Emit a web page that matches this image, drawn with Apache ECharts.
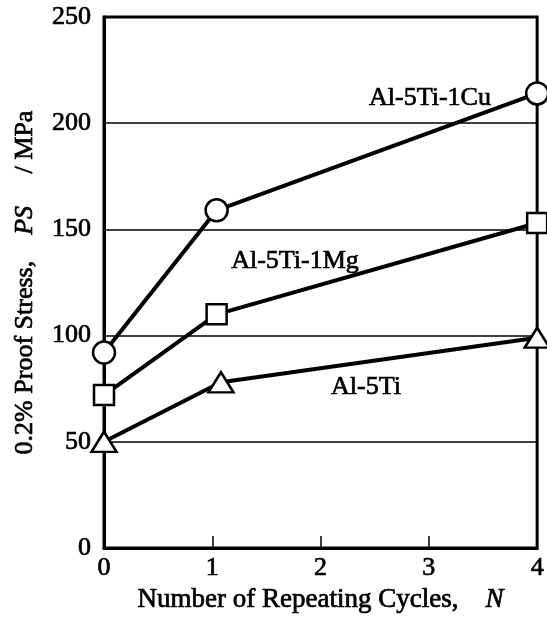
<!DOCTYPE html>
<html>
<head>
<meta charset="utf-8">
<script src="https://cdn.jsdelivr.net/npm/echarts@6/dist/echarts.min.js"></script>
<style>html,body{margin:0;padding:0;background:#fff}#c{width:547px;height:623px}</style>
</head>
<body>
<div id="c"></div>
<script>
const xTicks = [0, 1, 2, 3, 4];
const yTicks = [0, 50, 100, 150, 200, 250];
const seriesNames = ['Al-5Ti-1Cu', 'Al-5Ti-1Mg', 'Al-5Ti'];
const cuX = [0, 1.04, 4];
const cuY = [92, 159, 214];
const mgX = [0, 1.04, 4];
const mgY = [72, 110, 153];
const tiX = [0, 1.08, 4];
const tiY = [50, 78, 99];

const FONT = 'Liberation Serif';
const SW = 0.7;
const chart = echarts.init(document.getElementById('c'));
function pts(xs, ys) { return xs.map((x, i) => [x, ys[i]]); }
const common = {
  type: 'line',
  lineStyle: { color: '#000', width: 4 },
  itemStyle: { color: '#fff', borderColor: '#000', borderWidth: 2.5 },
  showAllSymbol: true,
  z: 5
};
const txt = { color: '#000', fontFamily: FONT, fontSize: 26, textBorderColor: '#000', textBorderWidth: SW };
const italic = Object.assign({}, txt, { fontStyle: 'italic' });
const xTxt = Object.assign({}, txt, { fontSize: 27 });
const xItalic = Object.assign({}, xTxt, { fontStyle: 'italic' });
function label(text, x, y) {
  return { type: 'text', x: x, y: y, z: 10,
    style: { text: text, fontFamily: FONT, fontSize: 26, fill: '#000', stroke: '#000', lineWidth: SW, align: 'center', verticalAlign: 'middle' } };
}
chart.setOption({
  animation: false,
  backgroundColor: '#fff',
  grid: { left: 104, right: 8, top: 17, bottom: 75, show: true, borderColor: '#000', borderWidth: 3, backgroundColor: 'transparent' },
  xAxis: {
    type: 'value', min: xTicks[0], max: xTicks[xTicks.length - 1], interval: 1,
    axisLine: { lineStyle: { color: '#000', width: 3 } },
    axisTick: { inside: true, length: 12, lineStyle: { color: '#000', width: 1.5 } },
    axisLabel: Object.assign({}, txt, { margin: 7 }),
    splitLine: { show: false },
    name: 'Number of Repeating Cycles,    {i|N}',
    nameLocation: 'middle', nameGap: 37,
    nameTextStyle: Object.assign({}, xTxt, { rich: { i: xItalic } })
  },
  yAxis: {
    type: 'value', min: yTicks[0], max: yTicks[yTicks.length - 1], interval: 50,
    axisLine: { lineStyle: { color: '#000', width: 3 } },
    axisTick: { show: false },
    axisLabel: Object.assign({}, txt, { margin: 13 }),
    splitLine: { show: true, lineStyle: { color: '#000', width: 1.5 } },
    name: '0.2% Proof Stress,    {i|PS}     / MPa',
    nameLocation: 'middle', nameGap: 66,
    nameTextStyle: Object.assign({}, txt, { rich: { i: italic } })
  },
  series: [
    Object.assign({}, common, { name: seriesNames[0], data: pts(cuX, cuY), symbol: 'circle', symbolSize: 22 }),
    Object.assign({}, common, { name: seriesNames[1], data: pts(mgX, mgY), symbol: 'rect', symbolSize: 20 }),
    Object.assign({}, common, { name: seriesNames[2], data: pts(tiX, tiY), symbol: 'triangle', symbolSize: [25, 20] })
  ],
  graphic: [
    label(seriesNames[0], 430, 98),
    label(seriesNames[1], 295, 261),
    label(seriesNames[2], 366, 387)
  ]
});
</script>
</body>
</html>
